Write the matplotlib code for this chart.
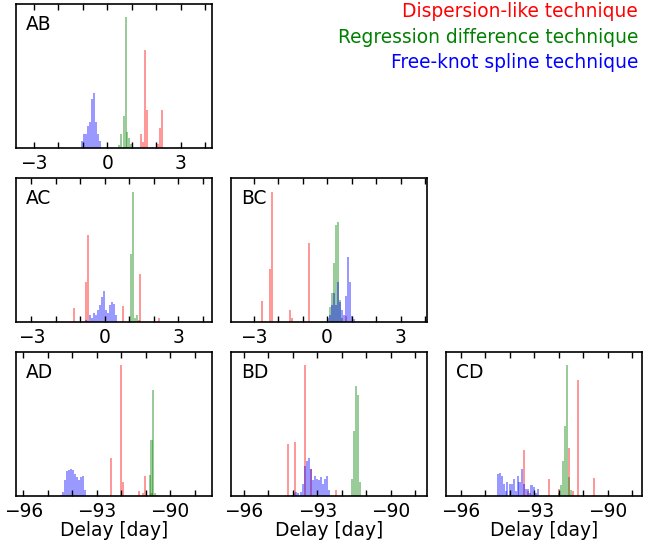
import matplotlib
matplotlib.use("Agg")
import matplotlib.pyplot as plt
import matplotlib.ticker as mtick

# bin width of the delay histograms (days)
BIN = 0.082

# heights are given in percent of the panel height
# ---- AB ----
AB_RED_X = [1.38, 1.46, 1.55, 1.60, 2.06, 2.14, 2.22]
AB_RED_H = [10, 4, 68, 26, 3, 14, 26]
AB_GREEN_X = [0.49, 0.57, 0.66, 0.74, 0.82, 0.90, 0.98]
AB_GREEN_H = [2, 10, 22, 91, 11, 7, 3]
AB_BLUE_X = [-1.04, -0.95, -0.87, -0.79, -0.71, -0.63, -0.55, -0.46, -0.38, -0.30]
AB_BLUE_H = [5, 10, 10, 15, 18, 34, 38, 18, 10, 5]

# ---- AC ----
AC_RED_X = [-1.27, -0.78, -0.69, 0.73, 1.37, 1.44, 2.20]
AC_RED_H = [10, 28, 60, 11, 1.5, 33, 3]
AC_GREEN_X = [1.05, 1.13, 1.21, 1.29, 1.37]
AC_GREEN_H = [47, 90, 3, 5, 1]
AC_BLUE_X = [-0.78, -0.69, -0.61, -0.53, -0.45, -0.37, -0.29, -0.20,
             -0.12, -0.04, 0.04, 0.12, 0.20, 0.29, 0.37, 0.45]
AC_BLUE_H = [1.5, 1, 4.8, 2.5, 6.4, 4.8, 8.3, 11.7, 17, 21.6, 8, 6.4,
             11.7, 13.8, 12.4, 4.8]

# ---- BC ----
BC_RED_X = [-2.65, -2.33, -2.24, -1.51, -1.43, -0.73, 0.78]
BC_RED_H = [14.5, 37, 90, 8.3, 2.8, 55, 4]
BC_GREEN_X = [0.11, 0.19, 0.27, 0.36, 0.44, 0.52, 0.60]
BC_GREEN_H = [10.6, 20, 41, 67, 69, 15, 3]
BC_BLUE_X = [0.03, 0.11, 0.19, 0.27, 0.36, 0.44, 0.52, 0.60, 0.68, 0.76,
             0.85, 0.93, 1.01, 1.09]
BC_BLUE_H = [3, 5, 12, 20, 12, 28, 14, 8, 5, 18, 45, 28, 4, 2]

# ---- AD ----
AD_RED_X = [-92.42, -92.01, -91.93, -91.28, -91.11, -91.03, -90.76]
AD_RED_H = [26.6, 90.7, 9.7, 3.5, 2, 13.7, 2]
AD_GREEN_X = [-90.84, -90.76, -90.68, -90.60, -90.52]
AD_GREEN_H = [14.4, 38.7, 73.4, 2, 1]
AD_BLUE_X = [-94.45, -94.37, -94.29, -94.21, -94.13, -94.05, -93.96,
             -93.88, -93.80, -93.72, -93.64, -93.56, -93.48]
AD_BLUE_H = [1, 3, 11, 17, 18, 19, 18, 15, 13, 11, 13, 14, 4]

# ---- BD ----
BD_RED_X = [-94.20, -93.92, -93.51, -93.27, -92.24]
BD_RED_H = [36, 37.7, 91, 19, 4]
BD_GREEN_X = [-91.59, -91.51, -91.43, -91.35, -91.27]
BD_GREEN_H = [12, 45, 76, 70, 10]
BD_BLUE_X = [-94.05, -93.96, -93.88, -93.80, -93.67, -93.59, -93.51,
             -93.43, -93.35, -93.27, -93.18, -93.10, -93.02, -92.94,
             -92.86, -92.78, -92.69, -92.61, -92.53]
BD_BLUE_H = [1, 2, 3, 2, 3, 8, 21, 24, 26, 19, 11, 14, 12, 11, 13, 8, 12, 14, 4]

# ---- CD ----
CD_RED_X = [-93.43, -93.27, -92.40, -91.99, -91.58, -91.42, -91.22, -90.57]
CD_RED_H = [32, 3.5, 12, 5, 33, 3.5, 80, 12.5]
CD_GREEN_X = [-91.99, -91.91, -91.83, -91.75, -91.67, -91.58, -91.50]
CD_GREEN_H = [2, 7.6, 24, 48.6, 91, 13, 4]
CD_BLUE_X = [-94.49, -94.41, -94.33, -94.25, -94.17, -94.09, -94.00,
             -93.92, -93.84, -93.76, -93.68, -93.60, -93.51, -93.43,
             -93.35, -93.27, -93.19, -93.11, -93.02, -92.94, -92.86]
CD_BLUE_H = [15, 16, 14, 8, 3.5, 10, 8, 8, 12, 3.5, 14, 10, 18.5, 8,
             5, 5, 2, 7.6, 6.5, 2, 5]

XLIMS = {
    "AB": (-3.73, 4.27),
    "AC": (-3.63, 4.37),
    "BC": (-3.92, 4.08),
    "AD": (-96.29, -88.29),
    "BD": (-96.53, -88.53),
    "CD": (-96.60, -88.60),
}

PANELS = {
    "AB": (AB_RED_X, AB_RED_H, AB_GREEN_X, AB_GREEN_H, AB_BLUE_X, AB_BLUE_H),
    "AC": (AC_RED_X, AC_RED_H, AC_GREEN_X, AC_GREEN_H, AC_BLUE_X, AC_BLUE_H),
    "BC": (BC_RED_X, BC_RED_H, BC_GREEN_X, BC_GREEN_H, BC_BLUE_X, BC_BLUE_H),
    "AD": (AD_RED_X, AD_RED_H, AD_GREEN_X, AD_GREEN_H, AD_BLUE_X, AD_BLUE_H),
    "BD": (BD_RED_X, BD_RED_H, BD_GREEN_X, BD_GREEN_H, BD_BLUE_X, BD_BLUE_H),
    "CD": (CD_RED_X, CD_RED_H, CD_GREEN_X, CD_GREEN_H, CD_BLUE_X, CD_BLUE_H),
}

# axes rectangles in figure fraction
COL_LEFT = [0.0248, 0.3576, 0.6904]
ROW_BOTTOM = [0.7289, 0.4103, 0.0916]
W, H = 0.3034, 0.2645
GRID = {"AB": (0, 0), "AC": (1, 0), "BC": (1, 1),
        "AD": (2, 0), "BD": (2, 1), "CD": (2, 2)}

FS = 13.4

fig = plt.figure(figsize=(6.46, 5.46), dpi=100)

for name, (row, col) in GRID.items():
    ax = fig.add_axes([COL_LEFT[col], ROW_BOTTOM[row], W, H])
    rx, rh, gx, gh, bx, bh = PANELS[name]
    for xs, hs, c in ((rx, rh, "red"), (gx, gh, "green"), (bx, bh, "blue")):
        ax.bar(xs, hs, width=BIN, color=c, alpha=0.4, linewidth=0)
    ax.set_xlim(*XLIMS[name])
    ax.set_ylim(0, 100)
    ax.set_yticks([])
    ax.xaxis.set_major_locator(mtick.MultipleLocator(3))
    ax.xaxis.set_minor_locator(mtick.MultipleLocator(1))
    ax.tick_params(axis="x", which="both", direction="in", top=True,
                   length=4.5, width=1, labelsize=FS, pad=4)
    for sp in ax.spines.values():
        sp.set_linewidth(1.2)
    ax.text(0.05, 0.92, name, transform=ax.transAxes, ha="left", va="top",
            fontsize=FS)
    if row == 2:
        ax.set_xlabel("Delay [day]", fontsize=FS, labelpad=0)

fig.text(0.988, 0.9694, "Dispersion-like technique", color="red",
         ha="right", va="baseline", fontsize=FS)
fig.text(0.988, 0.9218, "Regression difference technique", color="green",
         ha="right", va="baseline", fontsize=FS)
fig.text(0.988, 0.8749, "Free-knot spline technique", color="blue",
         ha="right", va="baseline", fontsize=FS)

fig.savefig("out.png", dpi=100)
